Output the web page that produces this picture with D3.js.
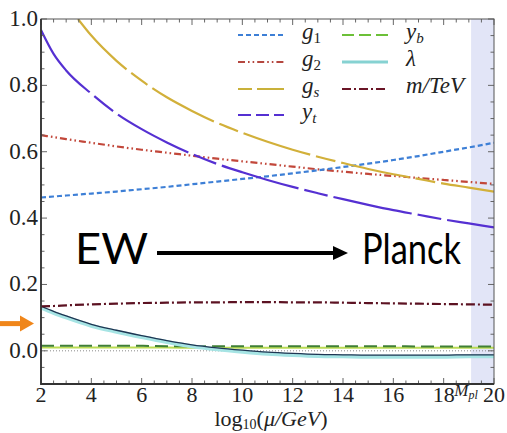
<!DOCTYPE html>
<html lang="en">
<head>
  <meta charset="UTF-8">
  <script src="https://d3js.org/d3.v7.min.js"></script>
  <style>
    body {
      margin: 0;
      padding: 0;
      background-color: #fff;
    }
  </style>
</head>
<body>
  <div id="chart"></div>

  <script>
    // log10(mu/GeV) sample points
    const t = [2, 2.5, 3, 4, 5, 6, 7, 8, 9, 10, 11, 12, 13, 14, 15, 16, 17, 18, 19, 20];

    const g1 = [0.462, 0.465, 0.468, 0.474, 0.480, 0.487, 0.494, 0.502, 0.510, 0.518, 0.526, 0.535, 0.544, 0.554, 0.564, 0.575, 0.587, 0.600, 0.613, 0.627];
    const g2 = [0.650, 0.644, 0.638, 0.627, 0.616, 0.606, 0.597, 0.588, 0.579, 0.571, 0.563, 0.555, 0.547, 0.540, 0.533, 0.527, 0.521, 0.515, 0.509, 0.503];
    const yt = [0.967, 0.895, 0.845, 0.775, 0.715, 0.668, 0.628, 0.593, 0.563, 0.538, 0.515, 0.494, 0.475, 0.457, 0.440, 0.424, 0.410, 0.396, 0.384, 0.372];
    const lambda = [0.135, 0.119, 0.105, 0.080, 0.062, 0.046, 0.031, 0.018, 0.009, 0.002, -0.004, -0.008, -0.011, -0.012, -0.013, -0.013, -0.013, -0.013, -0.012, -0.012];
    const yb = [0.015, 0.015, 0.015, 0.015, 0.015, 0.015, 0.014, 0.014, 0.014, 0.014, 0.014, 0.014, 0.014, 0.014, 0.014, 0.014, 0.013, 0.013, 0.013, 0.013];
    const ybLow = [0.010, 0.010, 0.010, 0.010, 0.010, 0.010, 0.010, 0.009, 0.009, 0.009, 0.009, 0.009, 0.009, 0.009, 0.009, 0.009, 0.009, 0.009, 0.009, 0.009];
    const mTeV = [0.134, 0.135, 0.137, 0.140, 0.142, 0.144, 0.145, 0.146, 0.146, 0.147, 0.147, 0.146, 0.146, 0.145, 0.144, 0.143, 0.142, 0.141, 0.140, 0.139];

    // g_s enters the frame at about 10^3.5 GeV
    const tGs = [3.47, 4, 5, 6, 7, 8, 9, 10, 11, 12, 13, 14, 15, 16, 17, 18, 19, 20];
    const gs = [1.000, 0.950, 0.874, 0.814, 0.764, 0.723, 0.687, 0.657, 0.630, 0.606, 0.585, 0.566, 0.548, 0.532, 0.518, 0.504, 0.492, 0.480];

    const xTicks = [2, 4, 6, 8, 10, 12, 14, 16, 18, 20];
    const yTicks = [0.0, 0.2, 0.4, 0.6, 0.8, 1.0];
    const mPlanck = 19.09;
    const orangeMark = 0.082;

    const SERIF = '"Liberation Serif", "Times New Roman", serif';
    const SANS = 'Lato, "Open Sans", sans-serif';

    const width = 507, height = 433;
    const margin = {top: 19, right: 13, bottom: 49, left: 41};
    const innerW = width - margin.left - margin.right;
    const innerH = height - margin.top - margin.bottom;

    const svg = d3.select("#chart")
      .append("svg")
      .attr("width", width)
      .attr("height", height);

    const x = d3.scaleLinear().domain([2, 20]).range([margin.left, margin.left + innerW]);
    const y = d3.scaleLinear().domain([-0.1, 1.0]).range([margin.top + innerH, margin.top]);

    svg.append("defs").append("clipPath")
      .attr("id", "plot-clip")
      .append("rect")
      .attr("x", margin.left).attr("y", margin.top)
      .attr("width", innerW).attr("height", innerH);

    // Planck region
    svg.append("rect")
      .attr("x", x(mPlanck))
      .attr("y", margin.top)
      .attr("width", x(20) - x(mPlanck))
      .attr("height", innerH)
      .attr("fill", "#e2e5f7");

    const plot = svg.append("g").attr("clip-path", "url(#plot-clip)");

    // zero line
    plot.append("line")
      .attr("x1", x(2)).attr("x2", x(20))
      .attr("y1", y(0)).attr("y2", y(0))
      .attr("stroke", "#8a8a8a")
      .attr("stroke-width", 1)
      .attr("stroke-dasharray", "1,2");

    const line = d3.line()
      .x(d => x(d[0]))
      .y(d => y(d[1]))
      .curve(d3.curveMonotoneX);

    const pairs = (xs, ys) => xs.map((v, i) => [v, ys[i]]);

    const series = [
      {key: "ybLow", xs: t, ys: ybLow, color: "#bcdc55", width: 2, dash: null},
      {key: "yb", xs: t, ys: yb, color: "#3f7f36", width: 2, dash: "13,6"},
      {key: "lambdaBand", xs: t, ys: lambda, color: "#a6e4e4", width: 4, dash: null, shift: 1.5},
      {key: "lambda", xs: t, ys: lambda, color: "#1f3552", width: 1.3, dash: null},
      {key: "mTeV", xs: t, ys: mTeV, color: "#5c1222", width: 2.2, dash: "9,3,2,3"},
      {key: "g2", xs: t, ys: g2, color: "#c2473a", width: 2.2, dash: "7,3,1.6,3,1.6,3"},
      {key: "g1", xs: t, ys: g1, color: "#3d7fd6", width: 2.2, dash: "5,3"},
      {key: "gs", xs: tGs, ys: gs, color: "#d2b03a", width: 2.2, dash: "70,6,20,6"},
      {key: "yt", xs: t, ys: yt, color: "#5530d2", width: 2.2, dash: "80,6,24,6"}
    ];

    plot.selectAll("path.series")
      .data(series)
      .enter()
      .append("path")
      .attr("class", "series")
      .attr("d", s => line(pairs(s.xs, s.ys)))
      .attr("transform", s => s.shift ? `translate(0,${s.shift})` : null)
      .attr("fill", "none")
      .attr("stroke", s => s.color)
      .attr("stroke-width", s => s.width)
      .attr("stroke-dasharray", s => s.dash);

    // frame ticks, inward on all four sides
    const tickGroup = svg.append("g").attr("stroke", "#666").attr("stroke-width", 1);
    const xMinor = d3.range(2, 20.01, 0.5);
    const yMinor = d3.range(-0.1, 1.001, 0.05);
    const isMajorX = v => Math.abs(v / 2 - Math.round(v / 2)) < 1e-6;
    const isMajorY = v => Math.abs(v * 5 - Math.round(v * 5)) < 1e-6;

    xMinor.forEach(v => {
      const len = isMajorX(v) ? 6 : 3.5;
      tickGroup.append("line").attr("x1", x(v)).attr("x2", x(v))
        .attr("y1", y(-0.1)).attr("y2", y(-0.1) - len);
      tickGroup.append("line").attr("x1", x(v)).attr("x2", x(v))
        .attr("y1", y(1)).attr("y2", y(1) + len);
    });
    yMinor.forEach(v => {
      const len = isMajorY(v) ? 6 : 3.5;
      tickGroup.append("line").attr("y1", y(v)).attr("y2", y(v))
        .attr("x1", x(2)).attr("x2", x(2) + len);
      tickGroup.append("line").attr("y1", y(v)).attr("y2", y(v))
        .attr("x1", x(20)).attr("x2", x(20) - len);
    });

    // frame
    svg.append("rect")
      .attr("x", margin.left).attr("y", margin.top)
      .attr("width", innerW).attr("height", innerH)
      .attr("fill", "none")
      .attr("stroke", "#555")
      .attr("stroke-width", 1);
    svg.append("path")
      .attr("d", `M${x(2)},${y(1)}V${y(-0.1)}H${x(20)}`)
      .attr("fill", "none")
      .attr("stroke", "#333")
      .attr("stroke-width", 1.8);

    // tick labels
    svg.append("g").selectAll("text")
      .data(yTicks)
      .enter()
      .append("text")
      .style("font-family", SERIF)
      .style("fill", "#222")
      .attr("x", margin.left - 3)
      .attr("y", d => y(d) + 7)
      .attr("text-anchor", "end")
      .attr("font-size", 23)
      .text(d => d.toFixed(1));

    svg.append("g").selectAll("text")
      .data(xTicks)
      .enter()
      .append("text")
      .style("font-family", SERIF)
      .style("fill", "#222")
      .attr("x", d => x(d))
      .attr("y", y(-0.1) + 18)
      .attr("text-anchor", "middle")
      .attr("font-size", 22)
      .text(d => d);

    const mpl = svg.append("text")
      .style("font-family", SERIF)
      .style("fill", "#222")
      .attr("x", x(mPlanck) - 5)
      .attr("y", y(-0.1) + 12)
      .attr("text-anchor", "middle")
      .attr("font-size", 17)
      .attr("font-style", "italic");
    mpl.append("tspan").text("M");
    mpl.append("tspan").attr("font-size", 12).attr("dy", 3).text("pl");

    // axis title
    const title = svg.append("text")
      .style("font-family", SERIF)
      .style("fill", "#222")
      .attr("x", 271)
      .attr("y", 426)
      .attr("text-anchor", "middle")
      .attr("font-size", 22);
    title.append("tspan").text("log");
    title.append("tspan").attr("font-size", 14).attr("dy", 3).text("10");
    title.append("tspan").attr("dy", -3).text("(");
    title.append("tspan").attr("font-style", "italic").text("μ/GeV");
    title.append("tspan").text(")");

    // legend
    const legendItems = [
      {key: "g1", label: ["g", "1"], color: "#3d7fd6", width: 2.2, dash: "5,3", col: 0, row: 0},
      {key: "g2", label: ["g", "2"], color: "#b5473f", width: 2.2, dash: "7,3,1.6,3,1.6,3", col: 0, row: 1},
      {key: "gs", label: ["g", "s"], color: "#c9b13a", width: 2.2, dash: "14,5,34,200", col: 0, row: 2},
      {key: "yt", label: ["y", "t"], color: "#5530d2", width: 2.2, dash: "13,5", col: 0, row: 3},
      {key: "yb", label: ["y", "b"], color: "#6cc038", width: 2.2, dash: "12,5", col: 1, row: 0},
      {key: "lambda", label: ["λ", ""], color: "#86d2d2", width: 3, dash: null, col: 1, row: 1},
      {key: "mTeV", label: ["m/TeV", ""], color: "#6a1526", width: 2.2, dash: "9,3,2,3", col: 1, row: 2}
    ];
    const colX = [238, 342];
    const rowY = [35, 62, 89, 115];

    const legend = svg.append("g");
    legendItems.forEach(d => {
      const lx = colX[d.col], ly = rowY[d.row];
      legend.append("line")
        .attr("x1", lx).attr("x2", lx + 46)
        .attr("y1", ly).attr("y2", ly)
        .attr("stroke", d.color)
        .attr("stroke-width", d.width)
        .attr("stroke-dasharray", d.dash);
      const lab = legend.append("text")
        .style("font-family", SERIF)
        .style("fill", "#222")
        .attr("x", lx + 64)
        .attr("y", ly + 4)
        .attr("font-size", 23)
        .attr("font-style", "italic");
      lab.append("tspan").text(d.label[0]);
      if (d.label[1]) {
        lab.append("tspan")
          .attr("font-size", 15)
          .attr("dy", 4)
          .attr("font-style", /\d/.test(d.label[1]) ? "normal" : "italic")
          .text(d.label[1]);
      }
    });

    // EW -> Planck annotation
    svg.append("text")
      .style("font-family", SANS)
      .style("fill", "#000")
      .attr("x", 75).attr("y", 264)
      .attr("font-size", 42)
      .attr("textLength", 73)
      .attr("lengthAdjust", "spacingAndGlyphs")
      .text("EW");
    svg.append("text")
      .style("font-family", SANS)
      .style("fill", "#000")
      .attr("x", 362).attr("y", 264)
      .attr("font-size", 42)
      .attr("textLength", 99)
      .attr("lengthAdjust", "spacingAndGlyphs")
      .text("Planck");
    svg.append("line")
      .attr("x1", 157).attr("x2", 336)
      .attr("y1", 253).attr("y2", 253)
      .attr("stroke", "#000")
      .attr("stroke-width", 4);
    svg.append("path")
      .attr("d", "M333,246L348,253L333,260Z")
      .attr("fill", "#000");

    // orange marker for the measured value
    const oy = y(orangeMark);
    svg.append("line")
      .attr("x1", 0).attr("x2", 23)
      .attr("y1", oy).attr("y2", oy)
      .attr("stroke", "#f0861a")
      .attr("stroke-width", 5);
    svg.append("path")
      .attr("d", `M20,${oy - 8}L34,${oy}L20,${oy + 8}Z`)
      .attr("fill", "#f0861a");
  </script>
</body>
</html>
